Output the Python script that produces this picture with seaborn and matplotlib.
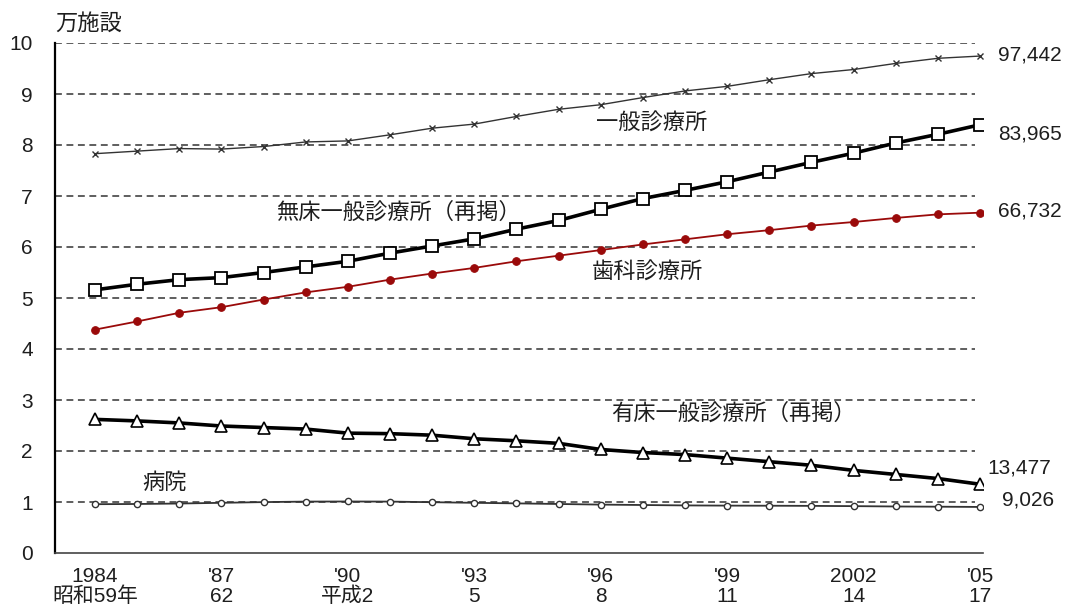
import matplotlib
matplotlib.use('Agg')
import matplotlib.pyplot as plt
import seaborn as sns

# -------- DATA (万施設) --------
years = list(range(1984, 2006))

general = [7.83, 7.88, 7.93, 7.92, 7.97, 8.06, 8.08, 8.20, 8.33, 8.41, 8.56,
           8.70, 8.79, 8.93, 9.06, 9.15, 9.28, 9.40, 9.48, 9.60, 9.70, 9.744]
no_bed = [5.16, 5.27, 5.36, 5.40, 5.50, 5.61, 5.72, 5.88, 6.02, 6.16, 6.35,
          6.52, 6.74, 6.95, 7.11, 7.28, 7.47, 7.66, 7.84, 8.04, 8.21, 8.397]
dental = [4.38, 4.54, 4.71, 4.82, 4.97, 5.11, 5.22, 5.36, 5.48, 5.59, 5.72,
          5.83, 5.94, 6.05, 6.15, 6.25, 6.33, 6.42, 6.49, 6.57, 6.64, 6.673]
with_bed = [2.62, 2.59, 2.55, 2.49, 2.46, 2.43, 2.35, 2.34, 2.31, 2.24, 2.20,
            2.15, 2.03, 1.97, 1.93, 1.86, 1.79, 1.72, 1.62, 1.54, 1.46, 1.348]
hospital = [0.957, 0.961, 0.970, 0.984, 0.998, 1.008, 1.010, 1.008, 0.996, 0.984, 0.973,
            0.961, 0.949, 0.941, 0.933, 0.929, 0.927, 0.924, 0.919, 0.912, 0.908, 0.903]

tick_years = [1984, 1987, 1990, 1993, 1996, 1999, 2002, 2005]
tick_labels = ["1984\n昭和59年", "'87\n62", "'90\n平成2", "'93\n5",
               "'96\n8", "'99\n11", "2002\n14", "'05\n17"]
end_labels = ["97,442", "83,965", "66,732", "13,477", "9,026"]

# -------- STYLE --------
sns.set_style('white')
plt.rcParams['font.family'] = ['Liberation Sans', 'Noto Sans CJK JP', 'DejaVu Sans']
TXT = '#1e1e1e'
RED = '#9a0a0a'
jp = ['Noto Sans CJK JP', 'DejaVu Sans']

fig = plt.figure(figsize=(10.65, 6.07), dpi=100)
ax = fig.add_axes([55 / 1065, 54 / 607, 928 / 1065, 510 / 607])

# -------- LINES --------
sns.lineplot(x=years, y=general, ax=ax, color='#333333', lw=1.0, marker='x',
             markersize=5, mew=1.0, mec='#333333')
sns.lineplot(x=years, y=no_bed, ax=ax, color='black', lw=2.6, marker='s',
             markersize=9, mfc='white', mec='black', mew=1.3)
sns.lineplot(x=years, y=dental, ax=ax, color=RED, lw=1.3, marker='o',
             markersize=5.5, mfc=RED, mec=RED)
sns.lineplot(x=years, y=with_bed, ax=ax, color='black', lw=2.6, marker='^',
             markersize=8.5, mfc='white', mec='black', mew=1.2)
sns.lineplot(x=years, y=hospital, ax=ax, color='#333333', lw=1.3, marker='o',
             markersize=4.5, mfc='white', mec='#333333', mew=1.0)

# -------- AXES --------
ax.set_xlim(1983.05, 2005.07)
ax.set_ylim(0, 10)
ax.set_yticks(range(0, 11))
ax.set_yticklabels([str(v) for v in range(0, 11)], fontsize=15, color=TXT)
ax.tick_params(axis='y', length=0, pad=16)

ax.set_xticks(years)
ax.set_xticklabels([tick_labels[tick_years.index(y)] if y in tick_years else ''
                    for y in years], fontsize=15, color=TXT, linespacing=1.05)
ax.tick_params(axis='x', direction='in', length=5, width=1, color='#444444', pad=10)

# dashed gridlines stop a little short of the last point, as in the original
ax.hlines(range(1, 11), 1983.05, 2004.88, color='#333333', lw=1.1,
          linestyles=[(0, (4.5, 3))], zorder=0)

for s in ['top', 'right']:
    ax.spines[s].set_visible(False)
ax.spines['left'].set_color('black')
ax.spines['left'].set_linewidth(1.6)
ax.spines['bottom'].set_color('#444444')
ax.spines['bottom'].set_linewidth(1.2)
ax.set_xlabel('')
ax.set_ylabel('')

# -------- LABELS --------
ax.text(1997.2, 8.43, '一般診療所', fontsize=16, color=TXT, ha='center', va='center', family=jp)
ax.text(1991.2, 6.69, '無床一般診療所（再掲）', fontsize=16, color=TXT, ha='center', va='center', family=jp)
ax.text(1997.1, 5.51, '歯科診療所', fontsize=16, color=TXT, ha='center', va='center', family=jp)
ax.text(1999.15, 2.75, '有床一般診療所（再掲）', fontsize=16, color=TXT, ha='center', va='center', family=jp)
ax.text(1985.66, 1.39, '病院', fontsize=16, color=TXT, ha='center', va='center', family=jp)

end_pos = [(2005.43, 9.76), (2005.43, 8.22), (2005.43, 6.71), (2005.17, 1.67), (2005.52, 1.04)]
for (x, y), lab in zip(end_pos, end_labels):
    ax.text(x, y, lab, fontsize=15, color=TXT, ha='left', va='center', clip_on=False)

fig.text(55 / 1065, 1 - 23 / 607, '万施設', fontsize=16, color=TXT, ha='left', va='center', family=jp)

fig.savefig('out.png', dpi=100)
